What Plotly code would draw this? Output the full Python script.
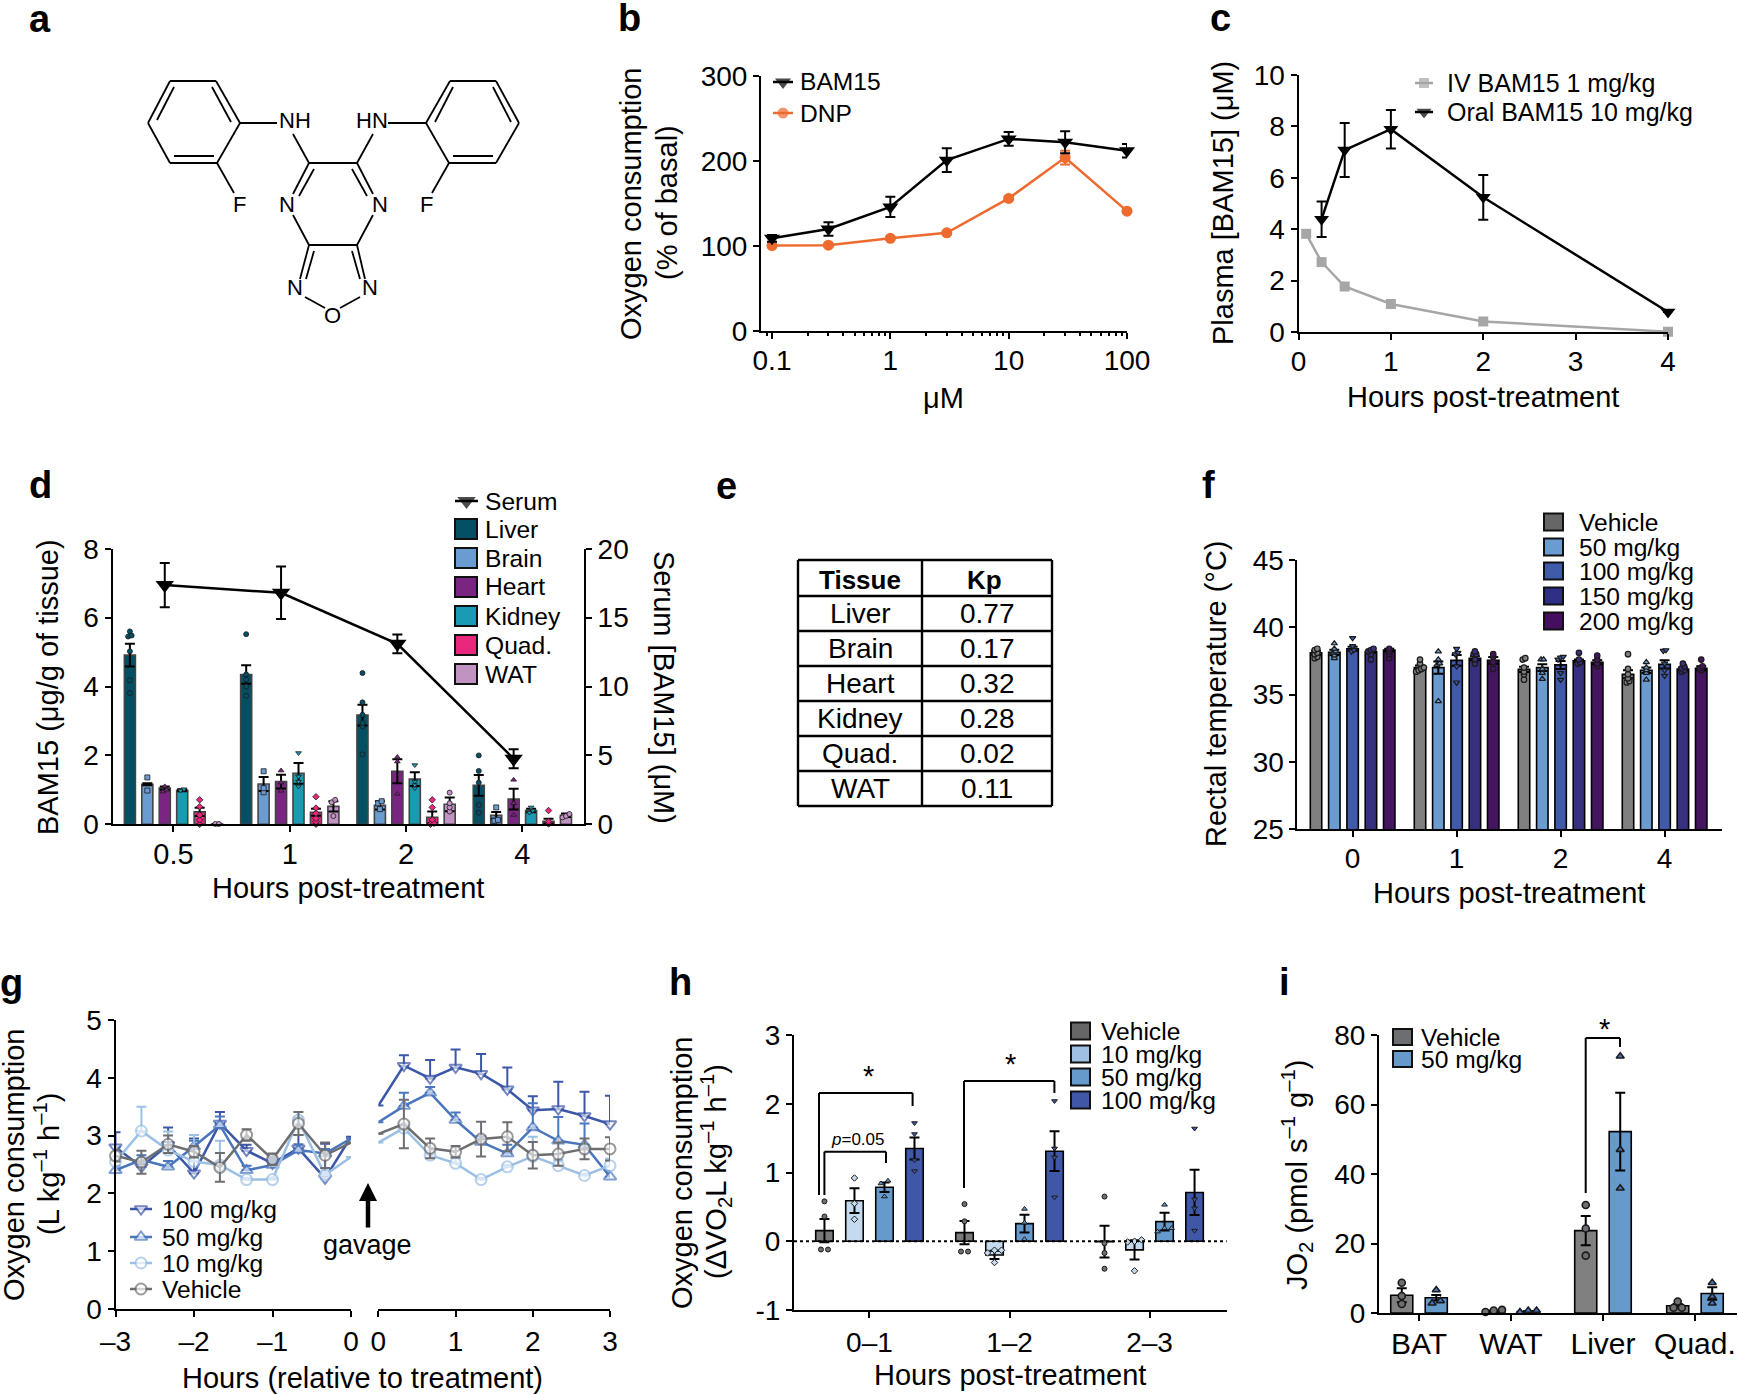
import plotly.graph_objects as go

W, H = 1738, 1395
FONT = "Liberation Sans"

# panel b
b_conc = [0.1, 0.3, 1, 3, 10, 30, 100]
b_bam15 = [109, 120, 146, 201, 226, 222, 212]
b_bam15_err = [4, 8, 12, 14, 8, 13, 8]
b_dnp = [100.5, 101, 109, 115.5, 156, 204, 141]
b_dnp_err = [2, 2, 2, 2, 2, 8, 2]

# panel c
c_iv_t = [0.083, 0.25, 0.5, 1, 2, 4]
c_iv = [3.82, 2.72, 1.77, 1.09, 0.41, 0.01]
c_oral_t = [0.25, 0.5, 1, 2, 4]
c_oral = [4.39, 7.08, 7.89, 5.24, 0.78]
c_oral_err = [0.69, 1.05, 0.75, 0.87, 0]

# panel d
d_groups = ["0.5", "1", "2", "4"]
d_names = ["Liver", "Brain", "Heart", "Kidney", "Quad.", "WAT"]
d_means = [[4.91, 4.35, 3.17, 1.13], [1.16, 1.17, 0.55, 0.26], [1.05, 1.24, 1.54, 0.73],
           [0.99, 1.48, 1.31, 0.40], [0.36, 0.35, 0.20, 0.09], [0.01, 0.52, 0.58, 0.26]]
d_errs = [[0.33, 0.27, 0.30, 0.30], [0.03, 0.20, 0.12, 0.10], [0.05, 0.20, 0.35, 0.30],
          [0.03, 0.30, 0.20, 0.05], [0.12, 0.10, 0.17, 0.07], [0, 0.15, 0.20, 0.05]]
d_points = [
    [[5.6, 5.48, 5.45, 5.02, 4.18, 3.81], [5.52, 4.35, 4.2, 4.0, 3.73], [4.39, 3.54, 3.18, 2.94, 2.84, 2.03], [2.0, 1.55, 1.21, 0.56, 0.34]],
    [[1.36, 0.98], [1.54, 1.05, 0.93], [0.67, 0.61, 0.44], [0.49, 0.13, 0.1]],
    [[1.1, 1.0, 0.95], [1.56, 1.21, 0.97], [1.95, 1.82, 0.88], [1.29, 0.61, 0.27]],
    [[1.02, 0.98], [2.07, 1.39, 1.24, 1.1], [1.72, 1.24, 1.14, 1.05], [0.49, 0.4, 0.34]],
    [[0.71, 0.51, 0.27, 0.13, 0], [0.8, 0.47, 0.32, 0.17, 0.08, 0], [0.71, 0.49, 0.13, 0.03, 0], [0.4, 0.08, 0.01]],
    [[0.01, 0.01], [0.71, 0.64, 0.24], [0.92, 0.61, 0.49, 0.37], [0.3, 0.24, 0.2]],
]
d_serum = [17.36, 16.8, 13.1, 4.76]
d_serum_err = [1.6, 1.9, 0.68, 0.69]

# panel e
e_tissue = ["Liver", "Brain", "Heart", "Kidney", "Quad.", "WAT"]
e_kp = ["0.77", "0.17", "0.32", "0.28", "0.02", "0.11"]

# panel f
f_groups = ["0", "1", "2", "4"]
f_names = ["Vehicle", "50 mg/kg", "100 mg/kg", "150 mg/kg", "200 mg/kg"]
f_means = [[38.1, 37.0, 36.87, 36.5], [38.13, 37.0, 37.0, 36.8], [38.4, 37.54, 37.2, 37.24],
           [38.2, 37.7, 37.5, 36.9], [38.3, 37.54, 37.4, 36.95]]
f_errs = [[0.15, 0.15, 0.2, 0.3], [0.2, 0.45, 0.25, 0.2], [0.15, 0.4, 0.3, 0.3],
          [0.1, 0.15, 0.1, 0.1], [0.1, 0.25, 0.15, 0.15]]
f_points = [
    [[38.4, 38.3, 38.1, 38.0, 37.8, 37.7], [37.6, 37.3, 37.0, 36.9, 36.8, 36.7], [37.7, 37.6, 37.0, 36.7, 36.5, 36.1], [38.0, 36.9, 36.5, 36.2, 36.0, 35.9]],
    [[38.8, 38.4, 38.2, 38.1, 37.9, 37.7], [38.2, 37.6, 37.3, 37.2, 34.5], [37.6, 37.6, 36.9, 36.6, 36.15], [37.4, 37.0, 36.8, 36.6, 36.1]],
    [[39.2, 38.6, 38.3, 38.2], [38.4, 38.1, 38.0, 37.1, 35.9], [37.8, 37.75, 37.6, 36.6, 36.1], [38.3, 38.25, 37.3, 36.8, 36.4]],
    [[38.4, 38.3, 38.2, 38.0, 37.6], [38.2, 38.0, 38.0, 37.6, 37.3], [38.1, 37.6, 37.4, 37.3], [37.3, 37.1, 36.95, 36.8, 36.7]],
    [[38.4, 38.2, 38.0, 37.7], [38.0, 37.8, 37.4, 36.9], [37.9, 37.6, 37.3, 37.1], [37.6, 37.1, 36.95, 36.8]],
]

# panel g
g_t_pre = [-3, -2.67, -2.33, -2, -1.67, -1.33, -1, -0.67, -0.33, 0]
g_t_post = [0, 0.33, 0.67, 1, 1.33, 1.67, 2, 2.33, 2.67, 3]
g_names = ["100 mg/kg", "50 mg/kg", "10 mg/kg", "Vehicle"]
g_pre = [[2.80, 2.46, 2.84, 2.35, 3.21, 2.74, 2.52, 2.78, 2.26, 2.98],
         [2.40, 2.58, 2.46, 2.81, 3.18, 2.40, 2.49, 2.75, 2.69, 2.95],
         [2.55, 3.08, 2.75, 2.55, 2.49, 2.24, 2.24, 3.27, 2.32, 2.63],
         [2.65, 2.54, 2.85, 2.72, 2.45, 3.01, 2.59, 3.21, 2.66, 2.88]]
g_pre_err = [[0.26, 0.1, 0.3, 0.6, 0.2, 0.1, 0.1, 0.23, 0.6, 0],
             [0.08, 0.08, 0.1, 0.1, 0.15, 0.08, 0.1, 0.1, 0.08, 0],
             [0.05, 0.42, 0.32, 0.46, 0.42, 0.03, 0.03, 0.05, 0.05, 0],
             [0.1, 0.2, 0.15, 0.1, 0.25, 0.1, 0.1, 0.2, 0.22, 0]]
g_post = [[3.52, 4.21, 3.99, 4.18, 4.07, 3.80, 3.44, 3.46, 3.34, 3.20],
          [3.23, 3.51, 3.74, 3.27, 2.89, 2.69, 3.14, 2.91, 2.84, 2.29],
          [2.88, 3.13, 2.66, 2.52, 2.24, 2.46, 2.64, 2.48, 2.31, 2.48],
          [3.03, 3.20, 2.78, 2.72, 2.94, 2.98, 2.66, 2.68, 2.77, 2.77]]
g_post_err = [[0, 0.18, 0.32, 0.31, 0.34, 0.38, 0.24, 0.47, 0.42, 0.49],
              [0, 0.23, 0.1, 0.13, 0.1, 0.15, 0.42, 0.41, 0.37, 0.1],
              [0, 0.05, 0.05, 0.1, 0.03, 0.03, 0.34, 0.1, 0.03, 0.12],
              [0, 0.42, 0.17, 0.1, 0.3, 0.25, 0.23, 0.2, 0.18, 0.2]]

# panel h
h_groups = ["0–1", "1–2", "2–3"]
h_names = ["Vehicle", "10 mg/kg", "50 mg/kg", "100 mg/kg"]
h_means = [[0.155, 0.126, -0.005], [0.59, -0.2, -0.126], [0.786, 0.257, 0.286], [1.35, 1.31, 0.71]]
h_errs = [[0.17, 0.17, 0.23], [0.18, 0.06, 0.14], [0.07, 0.13, 0.13], [0.16, 0.29, 0.33]]
h_points = [
    [[0.58, 0.36, -0.12, -0.12], [0.54, 0.29, -0.15, -0.15], [0.65, -0.03, -0.17, -0.4]],
    [[0.92, 0.55, 0.32], [-0.13, -0.13, -0.17, -0.31], [0.02, 0.0, -0.01, -0.43]],
    [[0.88, 0.84, 0.65], [0.47, 0.27, 0.03], [0.53, 0.19, 0.19, 0.14]],
    [[1.72, 1.56, 1.18, 1.02], [2.04, 1.35, 1.22, 0.64], [1.64, 0.61, 0.48, 0.155]],
]

# panel i
i_groups = ["BAT", "WAT", "Liver", "Quad."]
i_names = ["Vehicle", "50 mg/kg"]
i_means = [[5.1, 0.5, 23.7, 2.1], [4.4, 0.4, 52.2, 5.6]]
i_errs = [[2.0, 0.2, 4.2, 0.5], [0.8, 0.15, 11.2, 1.8]]
i_points = [
    [[8.7, 4.9, 2.6], [0.3, 0.9, 0.7], [31.1, 24.3, 16.5], [3.3, 1.5, 1.5]],
    [[6.6, 3.5, 2.8], [0.3, 0.7, 0.7], [73.9, 47.0, 35.9], [8.7, 4.7, 2.8]],
]

fig = go.Figure()
shapes, notes = [], []


def px(x):
    return x / W


def py(y):
    return 1 - y / H


def note(x, y, s, size=29, rot=0, xa="center"):
    # left anchored text carries a little padding
    x = x - 2.5 if xa == "left" else x
    notes.append(dict(xref="paper", yref="paper", x=px(x), y=py(y), text=s, showarrow=False,
                      textangle=rot, xanchor=xa, yanchor="middle",
                      font=dict(size=size, color="black", family=FONT)))


def seg(x0, y0, x1, y1, w=2, color="black", dash=None):
    shapes.append(dict(type="line", xref="paper", yref="paper", x0=px(x0), y0=py(y0), x1=px(x1), y1=py(y1),
                       line=dict(color=color, width=w, dash=dash)))


def axis_style(size=28):
    return dict(showgrid=False, zeroline=False, showline=True, linecolor="black", linewidth=2,
                ticks="outside", ticklen=6, tickwidth=2, tickcolor="black",
                tickfont=dict(size=size, color="black", family=FONT))


def add_axes(n, x0, x1, y_bottom, y_top, xr, yr, xkw=None, ykw=None):
    xa = axis_style()
    xa.update(domain=[px(x0), px(x1)], range=xr, anchor=f"y{n}")
    xa.update(xkw or {})
    ya = axis_style()
    ya.update(domain=[py(y_bottom), py(y_top)], range=yr, anchor=f"x{n}")
    ya.update(ykw or {})
    fig.update_layout(**{f"xaxis{n}": xa, f"yaxis{n}": ya})


def swarm(vals, step, gap):
    order = sorted(vals)
    out_x, out_y = [], []
    i = 0
    while i < len(order):
        j = i
        while j + 1 < len(order) and order[j + 1] - order[j] < gap:
            j += 1
        n = j - i + 1
        for k in range(n):
            out_x.append((k - (n - 1) / 2) * step)
            out_y.append(order[i + k])
        i = j + 1
    return out_x, out_y


def bars(n, means, errs, points, names, colors, symbols, slot, width, step, gap, msize, edge="black", mline=1.2, pointcolors=None):
    nk = len(means)
    for k in range(nk):
        off = (k - (nk - 1) / 2) * slot
        xs = [g + off for g in range(len(means[k]))]
        fig.add_trace(go.Bar(x=xs, y=means[k], width=width, name=names[k], xaxis=f"x{n}", yaxis=f"y{n}",
                             marker=dict(color=colors[k], line=dict(color=edge, width=1.6)),
                             error_y=dict(type="data", array=errs[k], color="black", thickness=2, width=5),
                             showlegend=False))
        px_, py_ = [], []
        for g, vals in enumerate(points[k]):
            ox, oy = swarm(vals, step, gap)
            px_ += [g + off + o for o in ox]
            py_ += oy
        pc = (pointcolors or colors)[k]
        fig.add_trace(go.Scatter(x=px_, y=py_, mode="markers", xaxis=f"x{n}", yaxis=f"y{n}", showlegend=False,
                                 cliponaxis=False,
                                 marker=dict(symbol=symbols[k], size=msize, color=pc,
                                             line=dict(color="#1a1a1a", width=mline))))


def glyph(x0, x1, y, color, symbol, size=11, fill=None, lw=2.5):
    xm = (x0 + x1) / 2
    fig.add_trace(go.Scatter(x=[x0, xm, x1], y=[y, y, y], xaxis="x11", yaxis="y11", mode="lines+markers",
                             showlegend=False, line=dict(color=color, width=lw),
                             marker=dict(size=[0, size, 0], symbol=symbol, color=fill or color,
                                         line=dict(color=color, width=2 if fill else 0))))


def swatch(x0, x1, y, h, color):
    shapes.append(dict(type="rect", xref="paper", yref="paper", x0=px(x0), x1=px(x1), y0=py(y - h / 2), y1=py(y + h / 2),
                       fillcolor=color, line=dict(color="#111111", width=2)))


# ---- a: structure
rings = [
    [(170, 81), (216, 81), (240, 123), (217, 163), (170, 163), (148, 123)],
    [(450, 81), (496, 81), (519, 123), (496, 163), (449, 163), (426, 123)],
]
for ring in rings:
    for i in range(6):
        seg(*ring[i], *ring[(i + 1) % 6], w=1.8)
inner = [(174, 87, 157, 120), (212, 87, 231, 122), (174, 156, 214, 156),
         (453, 87, 435, 122), (493, 87, 511, 122), (453, 156, 493, 156)]
bonds = [(240, 123, 277, 123), (388, 123, 426, 123), (293, 134, 309, 163), (373, 134, 357, 163),
         (309, 163, 357, 163), (309, 163, 293, 194), (357, 163, 373, 194), (217, 163, 234, 193),
         (449, 163, 432, 193), (293, 215, 309, 245), (373, 215, 357, 245), (309, 245, 357, 245),
         (309, 245, 300, 279), (357, 245, 365, 279), (305, 297, 325, 308), (360, 297, 340, 308),
         (314, 169, 299, 196), (352, 169, 367, 196), (314, 251, 306, 279), (352, 251, 360, 279)]
for b in inner + bonds:
    seg(*b, w=1.8)
for x, y, s in [(295, 120, "NH"), (372, 120, "HN"), (240, 204, "F"), (426, 204, "F"), (287, 204, "N"),
                (380, 204, "N"), (295, 287, "N"), (370, 287, "N"), (332, 315, "O")]:
    note(x, y, s, size=22)

# ---- b
add_axes(2, 761, 1127, 331, 76, [-1.093, 2], [0, 300],
         xkw=dict(type="log", tickvals=[0.1, 1, 10, 100], ticktext=["0.1", "1", "10", "100"], ticklabelstandoff=-3,
                  minor=dict(ticks="outside", ticklen=3, tickwidth=1.5, tickcolor="black", dtick="D1")),
         ykw=dict(tickvals=[0, 100, 200, 300]))
fig.add_trace(go.Scatter(x=b_conc, y=b_dnp, xaxis="x2", yaxis="y2", mode="lines+markers", cliponaxis=False, showlegend=False,
                         line=dict(color="#ee6a2f", width=2.5), marker=dict(size=11, color="#ee6a2f"),
                         error_y=dict(type="data", array=b_dnp_err, color="#ee6a2f", thickness=2, width=5)))
fig.add_trace(go.Scatter(x=b_conc, y=b_bam15, xaxis="x2", yaxis="y2", mode="lines+markers", cliponaxis=False, showlegend=False,
                         line=dict(color="black", width=2.5), marker=dict(size=14, color="black", symbol="triangle-down"),
                         error_y=dict(type="data", array=b_bam15_err, color="black", thickness=2, width=5)))
glyph(773, 793, 82, "black", "triangle-down", 14)
glyph(773, 793, 113, "#ee6a2f", "circle")
note(800, 82, "BAM15", 24.6, xa="left")
note(800, 113, "DNP", 24.6, xa="left")
note(631, 204, "Oxygen consumption", 29, -90)
note(667, 203, "(% of basal)", 29, -90)
note(944, 398, "μM", 29)

# ---- c
add_axes(3, 1298.5, 1668, 332, 75, [0, 4], [0, 10],
         xkw=dict(tickvals=[0, 1, 2, 3, 4], ticklabelstandoff=-3), ykw=dict(tickvals=[0, 2, 4, 6, 8, 10]))
fig.add_trace(go.Scatter(x=c_iv_t, y=c_iv, xaxis="x3", yaxis="y3", mode="lines+markers", cliponaxis=False, showlegend=False,
                         line=dict(color="#a6a6a6", width=2.5), marker=dict(size=10, color="#a6a6a6", symbol="square")))
fig.add_trace(go.Scatter(x=c_oral_t, y=c_oral, xaxis="x3", yaxis="y3", mode="lines+markers", cliponaxis=False, showlegend=False,
                         line=dict(color="black", width=2.5), marker=dict(size=13, color="black", symbol="triangle-down"),
                         error_y=dict(type="data", array=c_oral_err, color="black", thickness=2, width=5)))
glyph(1415, 1433, 83, "#a6a6a6", "square", 10)
glyph(1415, 1433, 112, "black", "triangle-down", 13)
note(1447, 83, "IV BAM15 1 mg/kg", 25, xa="left")
note(1447, 112, "Oral BAM15 10 mg/kg", 25, xa="left")
note(1223, 203, "Plasma [BAM15] (μM)", 29, -90)
note(1483, 397, "Hours post-treatment", 29)

# ---- d
d_colors = ["#034f64", "#6a9bd1", "#7b2583", "#1a9bb3", "#e9277c", "#c193c3"]
add_axes(4, 112.5, 584, 824.3, 548.7, [-0.5245, 3.53], [0, 8],
         xkw=dict(tickvals=[0, 1, 2, 3], ticktext=d_groups, ticklabelstandoff=-3,
                  tickfont=dict(size=29, color="black", family=FONT)),
         ykw=dict(tickvals=[0, 2, 4, 6, 8]))
fig.update_layout(yaxis5=dict(axis_style(), domain=[py(824.3), py(548.7)], range=[0, 20], overlaying="y4", side="right",
                              anchor="x4", tickvals=[0, 5, 10, 15, 20]))
bars(4, d_means, d_errs, d_points, d_names, d_colors, ["circle", "square", "triangle-up", "triangle-down", "diamond", "circle"],
     0.15, 0.095, 0.03, 0.07, 5, edge="#444444", mline=0.8)
fig.add_trace(go.Scatter(x=[g - 0.075 for g in range(4)], y=d_serum, xaxis="x4", yaxis="y5", mode="lines+markers", showlegend=False,
                         cliponaxis=False, line=dict(color="black", width=2.5), marker=dict(size=16, color="black", symbol="triangle-down"),
                         error_y=dict(type="data", array=d_serum_err, color="black", thickness=2, width=5)))
glyph(455, 478, 501, "black", "triangle-down", 16)
note(485, 501, "Serum", 24.6, xa="left")
for k, y in enumerate([529, 558, 587, 616, 645, 674]):
    swatch(455, 477, y, 20, d_colors[k])
    note(485, y, d_names[k], 24.6, xa="left")
note(48, 687, "BAM15 (μg/g of tissue)", 29, -90)
note(664, 687, "Serum [BAM15] (μM)", 29, 90)
note(348, 888, "Hours post-treatment", 29)

# ---- e: table drawn as grid lines and text so the row heights match
e_cols = [798, 922, 1052]
e_rows = [560, 596, 631, 666, 701, 736, 771, 806]
for x in e_cols:
    seg(x, e_rows[0], x, e_rows[-1], w=2.4)
for y in e_rows:
    seg(e_cols[0], y, e_cols[-1], y, w=2.4)
note(860, 580, "<b>Tissue</b>", 26)
note(984, 580, "<b>Kp</b>", 26)
for k in range(6):
    yc = (e_rows[k + 1] + e_rows[k + 2]) / 2
    note(860, yc, e_tissue[k], 28)
    note(987, yc, e_kp[k], 28)

# ---- f
f_colors = ["#808080", "#6a9bd1", "#4059a9", "#37307f", "#451660"]
add_axes(6, 1297.4, 1721.6, 829, 560, [-0.531, 3.548], [25, 45],
         xkw=dict(tickvals=[0, 1, 2, 3], ticktext=f_groups, ticklabelstandoff=-3), ykw=dict(tickvals=[25, 30, 35, 40, 45]))
bars(6, f_means, f_errs, f_points, f_names, f_colors, ["circle", "triangle-up", "triangle-down", "circle", "circle"],
     0.176, 0.11, 0.025, 0.15, 5.5, mline=1.2)
for k, y in enumerate([522, 547, 571, 596, 621]):
    swatch(1544, 1563, y, 17, ["#666666", "#6a9bd1", "#3f5ba9", "#2f2f86", "#440f5f"][k])
    note(1579, y, f_names[k], 24.6, xa="left")
note(1216, 694, "Rectal temperature (°C)", 29, -90)
note(1509, 893, "Hours post-treatment", 29)

# ---- g
g_colors = ["#3c56a8", "#4a76be", "#9cc0e4", "#6d6e71"]
g_symbols = ["triangle-down", "triangle-up", "circle", "circle"]
g_sizes = [11, 11, 11, 11]
add_axes(7, 115.5, 351, 1309, 1020, [-3, 0], [0, 5],
         xkw=dict(tickvals=[-3, -2, -1, 0], ticktext=["–3", "–2", "–1", "0"]), ykw=dict(tickvals=[0, 1, 2, 3, 4, 5]))
add_axes(8, 378.4, 610, 1309, 1020, [0, 3], [0, 5],
         xkw=dict(tickvals=[0, 1, 2, 3]), ykw=dict(visible=False))
for k in range(4):
    both = k == 3
    for n, t, vals, err in [(7, g_t_pre, g_pre[k], g_pre_err[k]), (8, g_t_post, g_post[k], g_post_err[k])]:
        sizes = [0 if e == 0 else g_sizes[k] for e in err]
        fig.add_trace(go.Scatter(x=t, y=vals, xaxis=f"x{n}", yaxis=f"y{n}", mode="lines+markers", cliponaxis=False, showlegend=False,
                                 line=dict(color=g_colors[k], width=2.5),
                                 marker=dict(size=sizes, symbol=g_symbols[k], color="rgba(255,255,255,0.85)",
                                             line=dict(color=g_colors[k], width=2)),
                                 error_y=dict(type="data", symmetric=False, array=err,
                                              arrayminus=err if both else [0] * len(err),
                                              color=g_colors[k], thickness=2, width=5)))
for k, y in enumerate([1209, 1237, 1263, 1289]):
    glyph(130, 152, y, g_colors[k], g_symbols[k], g_sizes[k], fill="white")
    note(162, y, g_names[k], 24.6, xa="left")
notes.append(dict(xref="paper", yref="paper", x=px(368), y=py(1183), text="", showarrow=True, arrowhead=2, arrowsize=0.8,
                  arrowwidth=4.5, arrowcolor="black", ax=0, ay=46))
note(367, 1245, "gavage", 27)
note(14, 1165, "Oxygen consumption", 29, -90)
note(47, 1164, "(L kg<sup>–1</sup> h<sup>–1</sup>)", 29, -90)
note(362, 1378, "Hours (relative to treatment)", 29)

# ---- h
h_colors = ["#7a7a7a", "#c5d9ef", "#6699cc", "#3f57a6"]
add_axes(9, 794, 1226.7, 1310, 1035, [-0.539, 2.551], [-1, 3],
         xkw=dict(tickvals=[0, 1, 2], ticktext=h_groups), ykw=dict(tickvals=[-1, 0, 1, 2, 3], ticktext=["-1", "0", "1", "2", "3"]))
bars(9, h_means, h_errs, h_points, h_names, h_colors, ["circle", "diamond", "triangle-up", "triangle-down"],
     0.2143, 0.125, 0.05, 0.06, 5, mline=1, pointcolors=["#6d6e71", "#c5d9ef", "#6699cc", "#3f57a6"])
shapes.append(dict(type="line", xref="x9 domain", yref="y9", x0=0, x1=1, y0=0, y1=0, line=dict(color="black", width=2, dash="dot")))
seg(819, 1195, 819, 1093); seg(819, 1093, 912.6, 1093); seg(912.6, 1093, 912.6, 1106)
seg(824.4, 1195, 824.4, 1151.7); seg(824.4, 1151.7, 886, 1151.7); seg(886, 1151.7, 886, 1163)
seg(964, 1188, 964, 1081); seg(964, 1081, 1054.4, 1081); seg(1054.4, 1081, 1054.4, 1093)
note(868, 1076, "*", 29)
note(1010.7, 1064, "*", 29)
note(857, 1139, "<i>p</i>=0.05", 17)
for k, y in enumerate([1031, 1054, 1077, 1100]):
    swatch(1071, 1090, y, 17, ["#666666", "#9fc0e3", "#6699cc", "#3f57a6"][k])
    note(1101, y, h_names[k], 24.6, xa="left")
note(682, 1173, "Oxygen consumption", 29, -90)
note(716, 1172, "(ΔVO<sub>2</sub>L kg<sup>–1</sup> h<sup>–1</sup>)", 29, -90)
note(1010, 1375, "Hours post-treatment", 29)

# ---- i
i_colors = ["#808080", "#6699cc"]
add_axes(10, 1379, 1737, 1313, 1035, [-0.435, 3.457], [0, 80],
         xkw=dict(tickvals=[0, 1, 2, 3], ticktext=i_groups, ticklabelstandoff=-3, tickfont=dict(size=30, color="black", family=FONT)),
         ykw=dict(tickvals=[0, 20, 40, 60, 80]))
bars(10, i_means, i_errs, i_points, i_names, i_colors, ["circle", "triangle-up"],
     0.375, 0.24, 0.09, 1.0, 7, mline=1.6, pointcolors=["#6d6e71", "#4a76be"])
seg(1585.7, 1193, 1585.7, 1038); seg(1585.7, 1038, 1620, 1038); seg(1620, 1038, 1620, 1047)
note(1604, 1029, "*", 29)
swatch(1393, 1412, 1037, 16, "#6d6e71")
swatch(1393, 1412, 1059, 16, "#6699cc")
note(1421, 1037, "Vehicle", 24.6, xa="left")
note(1421, 1059, "50 mg/kg", 24.6, xa="left")
note(1297, 1175, "JO<sub>2</sub> (pmol s<sup>–1</sup> g<sup>–1</sup>)", 29, -90)

# panel letters
for s, x, base in [("a", 29, 31), ("b", 618, 30), ("c", 1210, 30), ("d", 29, 497), ("e", 716, 498),
                   ("f", 1202, 497), ("g", 0, 995), ("h", 669, 994), ("i", 1279, 994)]:
    note(x, base - 12, f"<b>{s}</b>", 38, xa="left")

# overlay axes used only for legend glyphs
fig.update_layout(xaxis11=dict(domain=[0, 1], range=[0, W], visible=False, anchor="y11", fixedrange=True),
                  yaxis11=dict(domain=[0, 1], range=[H, 0], visible=False, anchor="x11", fixedrange=True))

fig.update_layout(width=W, height=H, autosize=False, margin=dict(l=0, r=0, t=0, b=0, pad=0, autoexpand=False),
                  plot_bgcolor="rgba(0,0,0,0)", paper_bgcolor="white",
                  barmode="overlay", showlegend=False, shapes=shapes, annotations=notes, font=dict(family=FONT, color="black"))

fig.write_html("out.html", config={"displayModeBar": False}, post_script="document.body.style.margin='0';")
